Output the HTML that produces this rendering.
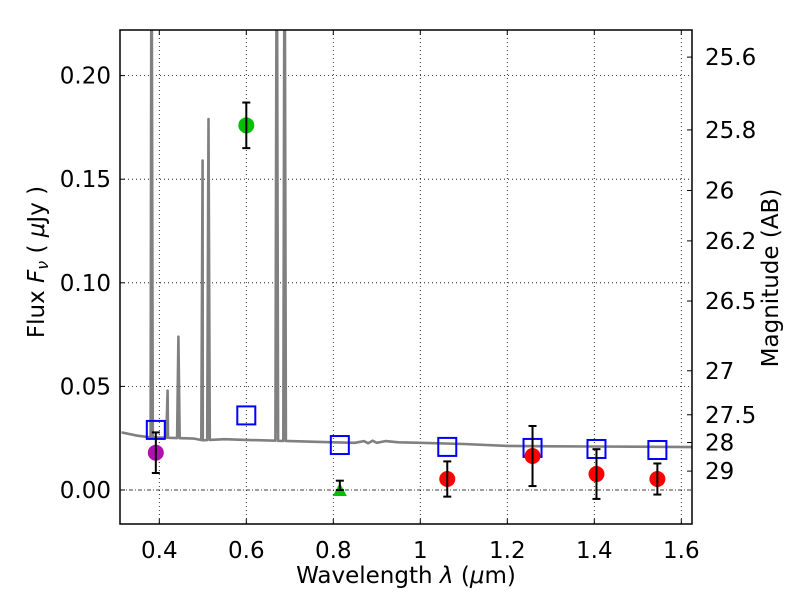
<!DOCTYPE html>
<html><head><meta charset="utf-8"><style>
body{margin:0;background:#fff;}
svg text{font-family:"DejaVu Sans","Liberation Sans",sans-serif;fill:#000;}
</style></head><body>
<svg id="c" width="800" height="600"></svg>
<script>
const xTicks=[0.4,0.6,0.8,1,1.2,1.4,1.6];
const xTickLabels=["0.4","0.6","0.8","1","1.2","1.4","1.6"];
const yTicks=[0,0.05,0.10,0.15,0.20];
const yTickLabels=["0.00","0.05","0.10","0.15","0.20"];
const magTicks=[25.6,25.8,26,26.2,26.5,27,27.5,28,29];
const magTickLabels=["25.6","25.8","26","26.2","26.5","27","27.5","28","29"];
const contWave=[0.313,0.35,0.38,0.42,0.45,0.48,0.5,0.55,0.6,0.7,0.8,0.85,0.87,0.88,0.89,0.9,0.92,0.95,1.0,1.1,1.2,1.3,1.4,1.5,1.628];
const contFlux=[0.0278,0.0262,0.0254,0.0252,0.0250,0.0248,0.0240,0.0245,0.0242,0.0236,0.0230,0.0228,0.0236,0.0226,0.0238,0.0228,0.0236,0.0230,0.0228,0.0222,0.0213,0.0211,0.0210,0.0209,0.0207];
const lineWave=[0.382,0.419,0.444,0.4995,0.513,0.670,0.688];
const linePeak=[0.3,0.048,0.074,0.159,0.179,0.3,0.3];
const photWave=[0.392,0.60,1.062,1.258,1.405,1.545];
const photFlux=[0.018,0.176,0.0053,0.0164,0.0077,0.0053];
const photErr=[0.0098,0.011,0.0085,0.0145,0.012,0.0075];
const photColor=["#b010b0","#00c000","red","red","red","red"];
const limWave=[0.815];const limFlux=[0];const limErr=[0.0045];
const modelWave=[0.392,0.60,0.815,1.062,1.258,1.405,1.545];
const modelFlux=[0.029,0.036,0.0217,0.0208,0.0203,0.0198,0.0193];

const L=120,R=692,T=30,B=524;
const X=l=>159.3+(l-0.4)*435;
const Y=f=>490-f*2072;
const NS="http://www.w3.org/2000/svg";
const svg=document.getElementById('c');
function mk(t,a,p){const e=document.createElementNS(NS,t);for(const k in a)e.setAttribute(k,a[k]);(p||svg).appendChild(e);return e;}
const clip=mk('clipPath',{id:'pc'});mk('rect',{x:L,y:T,width:R-L,height:B-T},clip);
xTicks.forEach((v,i)=>{
 const g=mk('line',{x1:X(v),x2:X(v),y1:T,y2:B,stroke:'#000','stroke-dasharray':'1,3','stroke-width':0.8});
 
 
 mk('line',{x1:X(v),x2:X(v),y1:B,y2:B-5,stroke:'#000'});mk('line',{x1:X(v),x2:X(v),y1:T,y2:T+5,stroke:'#000'});
 const t=mk('text',{x:X(v),y:B+34,'font-size':23,'text-anchor':'middle'});t.textContent=xTickLabels[i];
 
 
});
yTicks.forEach((v,i)=>{
 const g=mk('line',{x1:L,x2:R,y1:Y(v),y2:Y(v),stroke:'#000','stroke-dasharray':v===0?'4,2,1,2':'1,3','stroke-width':0.8});
 
 
 mk('line',{x1:L,x2:L+5,y1:Y(v),y2:Y(v),stroke:'#000'});
 const t=mk('text',{x:L-9,y:Y(v)+8,'font-size':23,'text-anchor':'end'});t.textContent=yTickLabels[i];
 
 
});
magTicks.forEach((m,i)=>{
 const y=Y(Math.pow(10,(23.9-m)/2.5));
 mk('line',{x1:R,x2:R-5,y1:y,y2:y,stroke:'#000'});
 const t=mk('text',{x:R+13,y:y+8,'font-size':23});t.textContent=magTickLabels[i];
 
 
});
const pts=[];
for(let i=0;i<contWave.length;i++)pts.push([contWave[i],contFlux[i]]);
lineWave.forEach((w,i)=>{pts.push([w-0.003,null]);pts.push([w,linePeak[i]]);pts.push([w+0.003,null]);});
pts.sort((a,b)=>a[0]-b[0]);
function cont(w){for(let i=0;i<contWave.length-1;i++)if(w>=contWave[i]&&w<=contWave[i+1]){const t=(w-contWave[i])/(contWave[i+1]-contWave[i]);return contFlux[i]+t*(contFlux[i+1]-contFlux[i]);}return contFlux[contFlux.length-1];}
const d=pts.map((p,i)=>(i?'L':'M')+X(p[0]).toFixed(1)+','+Y(p[1]===null?cont(p[0]):p[1]).toFixed(1)).join(' ');
const sp=mk('path',{d:d,fill:'none',stroke:'#808080','stroke-width':2.6,'stroke-linejoin':'round','clip-path':'url(#pc)'});


modelWave.forEach((w,i)=>{
 const r=mk('rect',{x:X(w)-9,y:Y(modelFlux[i])-9,width:18,height:18,fill:'none',stroke:'#0000ff','stroke-width':2});
 
 
});
function err(x,y1,y2){mk('line',{x1:x,x2:x,y1:y1,y2:y2,stroke:'#000','stroke-width':2});[y1,y2].forEach(y=>mk('line',{x1:x-4,x2:x+4,y1:y,y2:y,stroke:'#000','stroke-width':2}));}
photWave.forEach((w,i)=>{
 const c=mk('circle',{cx:X(w),cy:Y(photFlux[i]),r:8,fill:photColor[i]});
 
 
 err(X(w),Y(photFlux[i]+photErr[i]),Y(photFlux[i]-photErr[i]));
});
limWave.forEach((w,i)=>{
 const x=X(w),y=Y(limFlux[i]);
 const t=mk('polygon',{points:`${x-7},${y+6} ${x+7},${y+6} ${x},${y-7}`,fill:'#00c000'});
 
 
 err(x,Y(limFlux[i]+limErr[i]),y);
});
const fr=mk('rect',{x:L,y:T,width:R-L,height:B-T,fill:'none',stroke:'#000','stroke-width':1.5});


</script>
<div style="position:absolute;left:0;top:0;width:800px;height:600px;pointer-events:none">
<svg width="800" height="600" style="position:absolute;left:0;top:0">
<text x="406" y="583" font-size="23" text-anchor="middle" font-family="DejaVu Sans, Liberation Sans, sans-serif">Wavelength  <tspan font-style="italic">λ</tspan> (<tspan font-style="italic">μ</tspan>m)</text>
<text transform="translate(44,262) rotate(-90)" font-size="23" text-anchor="middle" font-family="DejaVu Sans, Liberation Sans, sans-serif">Flux  <tspan font-style="italic">F</tspan><tspan font-style="italic" font-size="16" dy="4">ν</tspan><tspan dy="-4">  ( </tspan><tspan font-style="italic">μ</tspan>Jy )</text>
<text transform="translate(778,278) rotate(-90)" font-size="23" text-anchor="middle" font-family="DejaVu Sans, Liberation Sans, sans-serif">Magnitude (AB)</text>
</svg></div>
</body></html>
